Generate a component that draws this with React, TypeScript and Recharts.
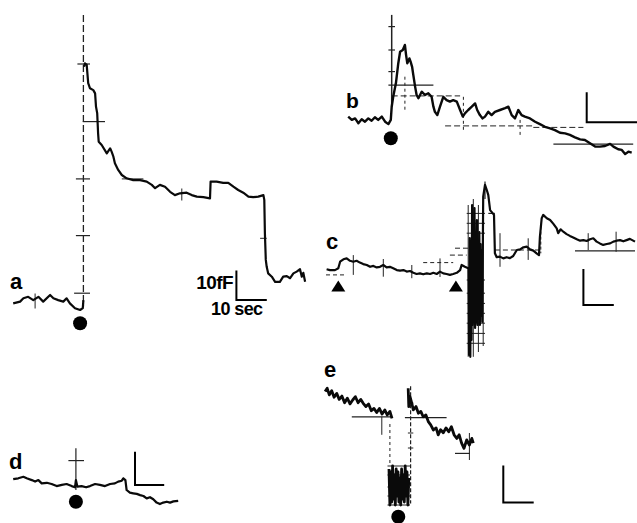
import React from 'react';
import { LineChart, Line, XAxis, YAxis, ReferenceLine, ReferenceDot } from 'recharts';

type P = [number, number];
type Seg = { a: P; b: P; d?: string; w?: number };

// px per unit (sec on x, fF on y) inside every panel
const PX = 3;

// ---------- panel a ----------
const traceA1: P[] = [
  [4.4, 12.2], [6.7, 12.8], [7.8, 13.9], [9.4, 14.4], [11.1, 13.3], [12.8, 14.4], [14.4, 12.8],
  [16.7, 15.0], [17.8, 13.9], [19.4, 13.3], [21.1, 12.8], [22.2, 13.9], [23.3, 12.2], [25.0, 10.6],
  [26.7, 10.0], [27.6, 10.6], [27.8, 13.3],
];
const traceA2: P[] = [
  [28.0, 91.1], [28.3, 92.2], [28.9, 91.7], [29.4, 85.6],
  [30.0, 83.9], [31.1, 83.3], [31.7, 82.2], [32.0, 77.8], [32.4, 75.6], [32.7, 68.9], [32.9, 66.1],
  [33.9, 65.0], [35.6, 62.2], [36.7, 63.9], [37.2, 62.8], [37.8, 61.1], [38.3, 58.9], [39.4, 56.7],
  [40.6, 55.0], [42.2, 53.9], [44.4, 53.3], [46.7, 53.3], [48.9, 52.8], [50.6, 51.7], [51.7, 50.6],
  [53.3, 51.7], [55.0, 51.1], [56.7, 49.4], [58.3, 48.3], [60.0, 48.9], [62.2, 49.1], [63.9, 48.3],
  [65.6, 47.8], [67.8, 47.6], [70.0, 47.2], [70.2, 52.8], [72.2, 52.8], [74.4, 52.4], [76.1, 52.4],
  [77.8, 51.1], [79.4, 50.0], [81.1, 49.1], [82.8, 47.8], [84.4, 47.6], [86.1, 47.8], [87.8, 48.3],
  [88.1, 46.7], [88.3, 35.6], [88.6, 26.7], [88.9, 24.4], [89.4, 22.2], [90.6, 21.1], [91.7, 19.4],
  [93.3, 19.4], [94.4, 21.1], [95.6, 21.3], [96.7, 20.6], [97.8, 22.2], [98.9, 22.8], [100.0, 23.6],
  [100.6, 21.1], [101.1, 22.4], [101.7, 19.4],
];
const barA: P[] = [[78.8, 22.8], [78.8, 13.3], [88.6, 13.3]];
const dotsA: P[] = [[26.7, 5.6]];
const segsA: Seg[] = [
  { a: [27.8, 108.3], b: [27.8, 11], d: '7 3', w: 1.3 },
  { a: [25.8, 92], b: [30, 92], w: 1.2 },
  { a: [27.6, 72.8], b: [35, 72.8], w: 1.2 },
  { a: [25.3, 53.7], b: [30, 53.7], w: 1.2 },
  { a: [25.3, 34.8], b: [30, 34.8], w: 1.2 },
  { a: [24.7, 15.6], b: [30, 15.6], w: 1.2 },
  { a: [40.6, 53.7], b: [47.8, 53.7], w: 1 },
  { a: [11.7, 15.5], b: [11.7, 10.5], w: 1 },
  { a: [60.6, 50.5], b: [60.6, 46.5], w: 1 },
  { a: [86.7, 33.9], b: [88.9, 33.9], w: 1 },
];

// ---------- panel b ----------
const traceB: P[] = [
  [9.4, 17.8], [10.6, 16.7], [11.7, 17.2], [12.8, 15.6], [13.9, 16.9], [15.0, 16.1], [16.1, 17.2],
  [17.2, 16.4], [18.3, 17.6], [19.4, 16.7], [20.6, 17.8], [21.7, 16.1], [22.8, 15.3], [23.6, 16.7],
  [23.9, 21.1], [24.4, 24.4], [25.3, 28.9], [26.1, 35.6], [26.7, 39.4], [27.6, 40.0], [28.3, 41.7],
  [28.7, 38.3], [29.1, 35.6], [29.8, 37.2], [30.2, 36.1], [30.7, 34.4], [31.1, 31.7], [31.7, 27.8],
  [32.2, 25.0], [32.8, 23.9], [33.9, 26.1], [35.0, 25.0], [36.1, 25.6], [37.2, 24.4], [37.8, 21.1],
  [38.3, 19.4], [39.1, 18.3], [40.0, 21.1], [41.1, 24.4], [42.2, 23.3], [43.3, 22.8], [44.4, 23.3],
  [45.6, 22.8], [46.7, 20.0], [47.6, 17.8], [48.3, 18.9], [49.4, 20.0], [50.6, 21.1], [51.7, 22.2],
  [52.4, 20.0], [53.3, 18.3], [54.2, 17.2], [55.0, 17.8], [56.1, 19.4], [57.2, 18.3], [58.3, 19.4],
  [60.0, 20.0], [61.7, 20.6], [62.8, 21.1], [63.9, 18.3], [65.0, 17.2], [66.1, 20.0], [67.2, 18.3],
  [68.3, 17.8], [70.0, 17.2], [71.7, 16.1], [73.3, 15.3], [75.0, 14.4], [76.7, 13.9], [78.3, 13.3],
  [80.0, 12.4], [81.7, 12.2], [83.3, 11.7], [85.0, 10.9], [86.7, 10.2], [88.3, 10.0], [90.0, 8.9],
  [91.7, 7.8], [93.3, 7.8], [95.0, 8.0], [96.7, 8.7], [97.8, 7.8], [99.4, 6.9], [100.6, 6.7],
  [101.7, 5.3], [102.8, 6.1], [103.9, 5.8],
];
const barB: P[] = [[88.9, 25.6], [88.9, 15.9], [105.6, 15.9]];
const dotsB: P[] = [[23.6, 10.6]];
const segsB: Seg[] = [
  { a: [23.9, 51.7], b: [23.9, 21.1], w: 1.5 },
  { a: [22.8, 47.8], b: [25, 47.8], w: 1.2 },
  { a: [22.8, 40], b: [25, 40], w: 1.2 },
  { a: [22.8, 32.8], b: [25, 32.8], w: 1.2 },
  { a: [22.8, 28.3], b: [37.8, 28.3], w: 1.2 },
  { a: [23.9, 24.7], b: [46.7, 24.7], d: '6 3', w: 1 },
  { a: [41.7, 14.7], b: [71.1, 14.7], d: '6 3', w: 1 },
  { a: [71.1, 14.2], b: [87.8, 14.2], d: '6 3', w: 1 },
  { a: [77.8, 8.6], b: [104.4, 8.6], w: 1.2 },
  { a: [28.3, 31.1], b: [28.3, 20], d: '3 3', w: 1 },
  { a: [47.8, 24.4], b: [47.8, 12.8], d: '3 3', w: 1 },
  { a: [66.7, 16.7], b: [66.7, 11], d: '3 3', w: 1 },
];

// ---------- panel c ----------
const traceC: P[] = [
  [2.2, 33.6], [3.3, 33.3], [5.0, 33.3], [6.1, 33.9], [6.7, 36.1], [7.8, 36.9], [8.9, 37.2],
  [10.0, 36.4], [11.1, 36.1], [12.2, 36.4], [13.3, 35.8], [14.4, 35.3], [15.6, 35.0], [16.7, 34.4],
  [17.8, 34.7], [18.9, 34.2], [20.0, 34.4], [21.1, 35.0], [22.2, 34.2], [23.3, 34.4], [24.4, 33.9],
  [25.6, 33.3], [26.7, 33.1], [27.8, 33.3], [28.9, 32.8], [30.0, 33.0], [31.1, 32.4], [32.2, 32.0],
  [33.3, 32.2], [34.4, 31.9], [35.6, 32.2], [36.7, 32.0], [37.8, 32.4], [38.9, 32.0], [40.0, 32.8],
  [41.1, 32.2], [42.2, 32.0], [43.3, 31.7], [44.4, 32.0], [45.6, 32.4], [46.7, 33.3], [47.2, 35.0],
  [48.3, 34.4], [49.4, 33.9],
  [49.5, 34], [49.7, 5], [49.9, 44], [50.1, 4.4], [50.3, 43], [50.5, 10], [50.7, 55], [50.9, 15],
  [51.1, 43], [51.3, 16], [51.5, 54], [51.7, 14], [51.9, 43], [52.1, 16], [52.3, 50], [52.5, 15],
  [52.7, 43], [52.9, 17], [53.1, 46], [53.3, 15], [53.5, 42], [53.7, 18], [53.9, 40], [54.1, 16],
  [54.3, 44],
  [54.4, 57.8], [55.0, 61.7], [55.6, 60.0], [56.1, 58.3], [56.7, 53.3], [57.6, 52.2], [58.0, 51.7],
  [58.3, 38.9], [58.9, 37.6], [60.0, 37.8], [61.1, 37.2], [62.2, 37.6], [63.3, 37.3], [64.4, 38.0],
  [65.6, 40.0], [66.7, 40.2], [67.8, 40.9], [68.9, 41.1], [70.0, 40.2], [71.1, 39.8], [72.2, 38.9],
  [73.0, 38.3], [73.3, 44.4], [73.9, 50.6], [74.4, 51.7], [75.6, 50.6], [76.7, 50.0], [77.8, 48.7],
  [78.9, 47.2], [79.4, 45.6], [80.2, 46.9], [81.1, 46.1], [82.2, 45.3], [83.3, 44.7], [84.4, 44.2],
  [85.6, 43.6], [86.7, 43.1], [87.8, 43.3], [88.9, 43.0], [90.0, 43.6], [91.1, 43.9], [92.2, 42.8],
  [93.3, 42.2], [94.4, 41.7], [95.6, 42.0], [96.7, 42.2], [97.8, 42.8], [98.9, 43.1], [100.0, 43.3],
  [101.1, 42.9], [102.2, 43.3], [103.3, 43.7], [105.0, 42.8],
];
const barC: P[] = [[87.8, 33.3], [87.8, 21.7], [97.6, 21.7]];
const trianglesC: P[] = [[6.1, 27.8], [45.3, 27.8]];
const blockLevelsC = [52.2, 48.9, 45.6, 30, 25.6, 22.2, 18.9, 15.6, 12.2, 8.9];
const segsC: Seg[] = [
  ...blockLevelsC.map((f) => ({ a: [48.9, f] as P, b: [55, f] as P, w: 1 })),
  { a: [49.4, 4.4], b: [49.4, 55], w: 1 },
  { a: [51.1, 4.4], b: [51.1, 57], w: 1 },
  { a: [52.8, 6], b: [52.8, 55], w: 1 },
  { a: [54.4, 8], b: [54.4, 50], w: 1 },
  { a: [55, 62.8], b: [55, 57], w: 1.2 },
  { a: [56.1, 52.2], b: [58.3, 52.2], w: 1.2 },
  { a: [45, 40.6], b: [49.4, 40.6], d: '5 3', w: 1 },
  { a: [43.3, 38.3], b: [48.9, 38.3], d: '5 3', w: 1 },
  { a: [58.3, 40], b: [73.3, 40], d: '5 3', w: 1 },
  { a: [85, 39.7], b: [105, 39.7], w: 1.2 },
  { a: [2, 31.7], b: [8, 31.7], d: '4 3', w: 1 },
  { a: [34.4, 35.8], b: [44.4, 35.8], d: '4 3', w: 1 },
  { a: [11.1, 38.3], b: [11.1, 31.7], w: 1 },
  { a: [21.1, 37], b: [21.1, 31.1], w: 1 },
  { a: [30.6, 35], b: [30.6, 30.6], w: 1 },
  { a: [40, 37.2], b: [40, 31], w: 1 },
  { a: [60, 45.6], b: [60, 34.4], w: 1 },
  { a: [69.4, 43.9], b: [69.4, 36.7], w: 1 },
  { a: [73.6, 47.8], b: [73.6, 38.9], d: '3 2', w: 1 },
  { a: [89.4, 45.6], b: [89.4, 40], w: 1 },
  { a: [98.7, 46.1], b: [98.7, 39.4], w: 1 },
];

// ---------- panel d ----------
const traceD: P[] = [
  [4.4, 14.6], [6.1, 14.9], [7.8, 15.4], [8.9, 14.9], [10.6, 14.3], [11.7, 13.8], [12.8, 14.3],
  [13.9, 13.2], [15.6, 13.4], [17.2, 13.0], [18.9, 12.3], [20.6, 12.7], [22.2, 13.0], [23.9, 12.3],
  [25.0, 11.9], [25.3, 14.3], [25.8, 12.1], [27.2, 12.3], [28.7, 11.9], [30.0, 12.3], [31.7, 13.0],
  [33.3, 12.7], [35.0, 12.3], [36.7, 13.0], [38.3, 13.2], [39.4, 13.8], [40.6, 14.1], [41.1, 14.9],
  [41.8, 14.3], [42.2, 11.0], [43.3, 10.1], [44.4, 9.9], [45.6, 9.7], [46.7, 9.3], [47.8, 9.0],
  [48.9, 8.2], [50.0, 8.6], [51.1, 7.9], [52.2, 6.8], [53.3, 6.3], [54.4, 6.8], [55.6, 7.1],
  [56.7, 6.8], [57.8, 7.2], [59.4, 7.4],
];
const barD: P[] = [[45, 23.4], [45, 12.7], [54.4, 12.7]];
const dotsD: P[] = [[25.3, 7.1]];
const segsD: Seg[] = [
  { a: [25.3, 24.9], b: [25.3, 11], w: 1.2 },
  { a: [22.8, 20.8], b: [28.0, 20.8], w: 1.2 },
];

// ---------- panel e ----------
const traceE1: P[] = [
  [1.7, 43.8], [2.4, 44.9], [3.1, 42.7], [3.9, 44.1], [4.7, 41.9], [5.6, 43.2], [6.4, 41.2],
  [7.3, 42.3], [8.2, 40.1], [9.1, 41.6], [10.0, 39.7], [10.9, 41.0], [11.8, 42.1], [12.7, 40.1],
  [13.6, 41.2], [14.4, 39.9], [15.3, 38.8], [16.2, 39.7], [17.1, 37.4], [18.0, 38.2], [18.9, 36.8],
  [19.8, 38.2], [20.7, 36.3], [21.6, 37.7], [22.4, 36.0], [23.3, 37.2], [24.0, 34.9],
];
const blockE: P[] = [
  [23.0, 18], [23.3, 6], [23.6, 17], [23.9, 7], [24.2, 19], [24.5, 8], [24.8, 16], [25.1, 6],
  [25.4, 18], [25.7, 9], [26.0, 17], [26.3, 7], [26.6, 15], [26.9, 6], [27.2, 18], [27.5, 8],
  [27.8, 16], [28.1, 7], [28.4, 19], [28.7, 9], [29.0, 17], [29.3, 6], [29.6, 15],
];
const traceE2: P[] = [
  [29.4, 44.9], [29.6, 38.8], [30.0, 42.1], [30.6, 39.9], [31.1, 37.7], [32.0, 38.8], [32.8, 36.6],
  [33.6, 37.2], [34.4, 35.4], [35.3, 36.0], [36.1, 33.8], [36.9, 32.7], [37.8, 31.0], [38.7, 31.7],
  [39.4, 29.4], [40.2, 31.1], [41.1, 30.1], [42.0, 31.7], [42.9, 30.4], [43.8, 32.1], [44.7, 29.4],
  [45.6, 28.2], [46.4, 29.4], [47.2, 26.6], [48.0, 24.9], [48.9, 27.7], [49.8, 26.0], [50.6, 28.2],
  [51.1, 26.6],
];
const barE: P[] = [[61.1, 18.8], [61.1, 6.8], [70.9, 6.8]];
const dotsE: P[] = [[26.1, 2.1]];
const blockLevelsE = [19, 16, 12, 9, 6];
const segsE: Seg[] = [
  ...blockLevelsE.map((f) => ({ a: [22.5, f] as P, b: [30, f] as P, w: 1 })),
  { a: [10.6, 35.4], b: [23.9, 35.4], w: 1.2 },
  { a: [28.3, 35.1], b: [42.2, 35.1], w: 1.2 },
  { a: [45, 23.2], b: [50, 23.2], w: 1.2 },
  { a: [30.2, 45.6], b: [30.2, 6.5], d: '4 2', w: 1.2 },
  { a: [20.6, 35.4], b: [20.6, 29.4], w: 1 },
  { a: [23.3, 33], b: [23.3, 20], d: '3 3', w: 1 },
  { a: [29.3, 40], b: [31.1, 40], w: 1 },
  { a: [29.3, 30], b: [31.1, 30], w: 1 },
  { a: [29.3, 25], b: [31.1, 25], w: 1 },
  { a: [49.8, 30], b: [49.8, 21], w: 1 },
];

const toData = (pts: P[]) => pts.map(([t, f]) => ({ t, f }));

type PanelProps = {
  left: number; top: number; width: number; height: number;
  traces: P[][]; bar: P[]; segs: Seg[]; dots?: P[]; triangles?: P[]; traceWidth?: number;
};

function Panel({ left, top, width, height, traces, bar, segs, dots = [], triangles = [], traceWidth = 2.2 }: PanelProps) {
  return (
    <div style={{ position: 'absolute', left, top, width, height }}>
      <LineChart width={width} height={height} margin={{ top: 0, right: 0, bottom: 0, left: 0 }}>
        <XAxis type="number" dataKey="t" hide domain={[0, width / PX]} allowDataOverflow />
        <YAxis type="number" hide domain={[0, height / PX]} allowDataOverflow />
        {segs.map((s, i) => (
          <ReferenceLine
            key={'s' + i}
            segment={[{ x: s.a[0], y: s.a[1] }, { x: s.b[0], y: s.b[1] }]}
            stroke="#222"
            strokeWidth={s.w ?? 1}
            strokeDasharray={s.d}
            ifOverflow="visible"
          />
        ))}
        {traces.map((tr, i) => (
          <Line
            key={'t' + i}
            data={toData(tr)}
            dataKey="f"
            type="linear"
            dot={false}
            activeDot={false}
            stroke="#0a0a0a"
            strokeWidth={traceWidth}
            strokeLinejoin="round"
            isAnimationActive={false}
          />
        ))}
        <Line
          data={toData(bar)}
          dataKey="f"
          type="linear"
          dot={false}
          activeDot={false}
          stroke="#000"
          strokeWidth={2}
          strokeLinecap="square"
          isAnimationActive={false}
        />
        {dots.map((d, i) => (
          <ReferenceDot key={'d' + i} x={d[0]} y={d[1]} r={7} fill="#000" stroke="none" ifOverflow="visible" />
        ))}
        {triangles.map((d, i) => (
          <ReferenceDot
            key={'tr' + i}
            x={d[0]}
            y={d[1]}
            r={6}
            ifOverflow="visible"
            shape={(p: any) => (
              <polygon
                points={`${p.cx - 7},${p.cy + 5} ${p.cx + 7},${p.cy + 5} ${p.cx},${p.cy - 6}`}
                fill="#000"
              />
            )}
          />
        ))}
      </LineChart>
    </div>
  );
}

const FONT = '"Liberation Sans", Arial, Helvetica, sans-serif';

function Txt({ x, baseline, size, children, right }: { x: number; baseline: number; size: number; children: React.ReactNode; right?: boolean }) {
  return (
    <div
      style={{
        position: 'absolute',
        left: x,
        top: baseline - 0.8465 * size,
        fontFamily: FONT,
        fontWeight: 700,
        fontSize: size,
        lineHeight: 1,
        whiteSpace: 'nowrap',
        color: '#000',
        letterSpacing: -0.6,
        transform: right ? 'translateX(-100%)' : undefined,
      }}
    >
      {children}
    </div>
  );
}

export default function App() {
  return (
    <div style={{ position: 'absolute', left: 0, top: 0, width: 637, height: 523, background: '#fff', overflow: 'hidden' }}>
      <Panel left={0} top={0} width={320} height={340} traces={[traceA1, traceA2]} bar={barA} segs={segsA} dots={dotsA} />
      <Panel left={320} top={0} width={317} height={170} traces={[traceB]} bar={barB} segs={segsB} dots={dotsB} traceWidth={2.4} />
      <Panel left={320} top={170} width={317} height={200} traces={[traceC]} bar={barC} segs={segsC} triangles={trianglesC} />
      <Panel left={0} top={380} width={320} height={143} traces={[traceD]} bar={barD} segs={segsD} dots={dotsD} />
      <Panel left={320} top={370} width={317} height={153} traces={[traceE1, blockE, traceE2]} bar={barE} segs={segsE} dots={dotsE} traceWidth={2.8} />
      <Txt x={10} baseline={290} size={22}>a</Txt>
      <Txt x={233} baseline={289} size={19} right>10fF</Txt>
      <Txt x={211} baseline={315} size={18}>10 sec</Txt>
      <Txt x={346} baseline={108} size={21}>b</Txt>
      <Txt x={326} baseline={250} size={22}>c</Txt>
      <Txt x={9} baseline={470} size={22}>d</Txt>
      <Txt x={324} baseline={378} size={22}>e</Txt>
    </div>
  );
}
